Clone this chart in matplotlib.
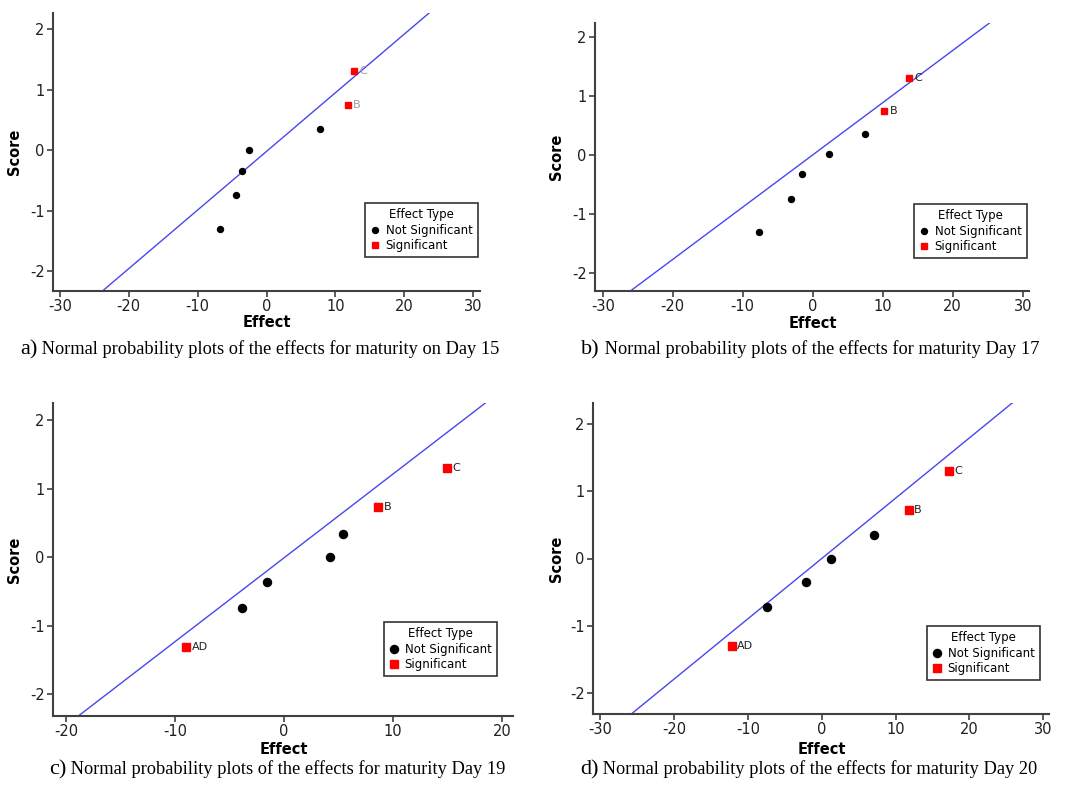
import matplotlib
matplotlib.use('Agg')
import matplotlib.pyplot as plt
import matplotlib.transforms as mtrans
from matplotlib.lines import Line2D

plt.rcParams['axes.unicode_minus'] = False

##Panel data: effects (x) and normal scores (y)
ns_a_x = [-6.7, -4.4, -3.5, -2.6, 7.7]
ns_a_y = [-1.31, -0.74, -0.35, 0.0, 0.35]
sig_a_x = [11.8, 12.75]
sig_a_y = [0.74, 1.31]
sig_a_lab = ['B', 'C']

ns_b_x = [-7.7, -3.1, -1.6, 2.3, 7.5]
ns_b_y = [-1.31, -0.74, -0.33, 0.02, 0.35]
sig_b_x = [10.2, 13.8]
sig_b_y = [0.75, 1.31]
sig_b_lab = ['B', 'C']

ns_c_x = [-3.9, -1.6, 4.2, 5.4]
ns_c_y = [-0.74, -0.36, 0.0, 0.34]
sig_c_x = [-9.0, 8.6, 14.9]
sig_c_y = [-1.31, 0.73, 1.30]
sig_c_lab = ['AD', 'B', 'C']

ns_d_x = [-7.4, -2.2, 1.2, 7.1]
ns_d_y = [-0.73, -0.35, 0.0, 0.35]
sig_d_x = [-12.2, 11.8, 17.2]
sig_d_y = [-1.31, 0.73, 1.31]
sig_d_lab = ['AD', 'B', 'C']

##fitted reference lines (slope, intercept)
line_a = (0.097, -0.02)
line_b = (0.0887, 0.0)
line_c = (0.1224, -0.01)
line_d = (0.0899, 0.0)

captions = [('a)', ' Normal probability plots of the effects for maturity on Day 15'),
            ('b)', ' Normal probability plots of the effects for maturity Day 17'),
            ('c)', ' Normal probability plots of the effects for maturity Day 19'),
            ('d)', ' Normal probability plots of the effects for maturity Day 20')]

W, H = 1067, 786
fig = plt.figure(figsize=(W / 100, H / 100), dpi=100)
fig.patch.set_facecolor('white')

def px(l, t, r, b):
    return [l / W, 1 - b / H, (r - l) / W, (b - t) / H]

panels = [
    dict(rect=px(53, 13, 480, 291), xlim=(-31, 31), ylim=(-2.33, 2.27), xt=[-30, -20, -10, 0, 10, 20, 30],
         ns=(ns_a_x, ns_a_y), sig=(sig_a_x, sig_a_y, sig_a_lab), line=line_a, ms=4.3, labcol='#9a9a9a',
         leg=(365, 203), cap=(20, 354), ylab=15, xlab=322),
    dict(rect=px(595, 23, 1029, 291), xlim=(-31.1, 30.9), ylim=(-2.31, 2.24), xt=[-30, -20, -10, 0, 10, 20, 30],
         ns=(ns_b_x, ns_b_y), sig=(sig_b_x, sig_b_y, sig_b_lab), line=line_b, ms=4.3, labcol='#202020',
         leg=(914, 204), cap=(581, 354), ylab=557, xlab=323),
    dict(rect=px(53, 403, 513, 716), xlim=(-21.2, 21.0), ylim=(-2.32, 2.25), xt=[-20, -10, 0, 10, 20],
         ns=(ns_c_x, ns_c_y), sig=(sig_c_x, sig_c_y, sig_c_lab), line=line_c, ms=5.8, labcol='#202020',
         leg=(384, 622), cap=(49, 774), ylab=15, xlab=750),
    dict(rect=px(593, 403, 1049, 714), xlim=(-31.0, 30.8), ylim=(-2.32, 2.32), xt=[-30, -20, -10, 0, 10, 20, 30],
         ns=(ns_d_x, ns_d_y), sig=(sig_d_x, sig_d_y, sig_d_lab), line=line_d, ms=5.8, labcol='#202020',
         leg=(927, 626), cap=(580, 774), ylab=557, xlab=750),
]

spine_col = '#404040'
for p, cap in zip(panels, captions):
    ax = fig.add_axes(p['rect'])
    ax.set_xlim(p['xlim'])
    ax.set_ylim(p['ylim'])
    for s in ['top', 'right']:
        ax.spines[s].set_visible(False)
    for s in ['left', 'bottom']:
        ax.spines[s].set_color(spine_col)
        ax.spines[s].set_linewidth(1.5)
    ax.set_xticks(p['xt'])
    ax.set_yticks([-2, -1, 0, 1, 2])
    ax.tick_params(direction='out', length=4, width=1.2, color=spine_col, labelsize=10.5,
                   labelcolor='#202020', pad=2)

    m, b = p['line']
    ax.axline((0, b), slope=m, color='#4747f0', lw=1.0, zorder=1)

    ms = p['ms']
    ax.plot(p['ns'][0], p['ns'][1], 'o', color='black', ms=ms, zorder=3, clip_on=False)
    sx, sy, slab = p['sig']
    ax.plot(sx, sy, 's', color='#ff0000', ms=ms, zorder=3, clip_on=False)
    for x, y, t in zip(sx, sy, slab):
        ax.annotate(t, (x, y), xytext=(4, 0), textcoords='offset points', va='center', ha='left',
                    fontsize=8, color=p['labcol'])

    ##axis titles
    yc = 1 - (p['rect'][1] + p['rect'][3] / 2)
    fig.text(p['ylab'] / W, 1 - yc * 0 - (p['rect'][1] + p['rect'][3] / 2) * 0 - (1 - (p['rect'][1] + p['rect'][3] / 2)),
             'Score', rotation=90, ha='center', va='center', fontsize=10.5, fontweight='bold')
    tr = mtrans.blended_transform_factory(ax.transData, fig.transFigure)
    ax.text(0, 1 - p['xlab'] / H, 'Effect', transform=tr, ha='center', va='center',
            fontsize=10.5, fontweight='bold')

    handles = [Line2D([], [], marker='o', ls='', color='black', ms=ms),
               Line2D([], [], marker='s', ls='', color='#ff0000', ms=ms)]
    leg = fig.legend(handles, ['Not Significant', 'Significant'], title='Effect Type',
                     loc='upper left', bbox_to_anchor=(p['leg'][0] / W, 1 - p['leg'][1] / H),
                     fontsize=8.5, title_fontsize=8.5, frameon=True, fancybox=False,
                     handlelength=0.8, handletextpad=0.5, borderpad=0.45, labelspacing=0.2,
                     borderaxespad=0)
    leg.get_frame().set_edgecolor('black')
    leg.get_frame().set_linewidth(1.2)

    ##caption below each panel
    t = fig.text(p['cap'][0] / W, 1 - p['cap'][1] / H, cap[0],
                 fontsize=16, family='Liberation Serif', ha='left', va='baseline')
    fig.canvas.draw()
    bb = t.get_window_extent()
    fig.text(bb.x1 / W, 1 - p['cap'][1] / H, cap[1], fontsize=13.2, family='Liberation Serif',
             ha='left', va='baseline')

fig.savefig('out.png', dpi=100)
